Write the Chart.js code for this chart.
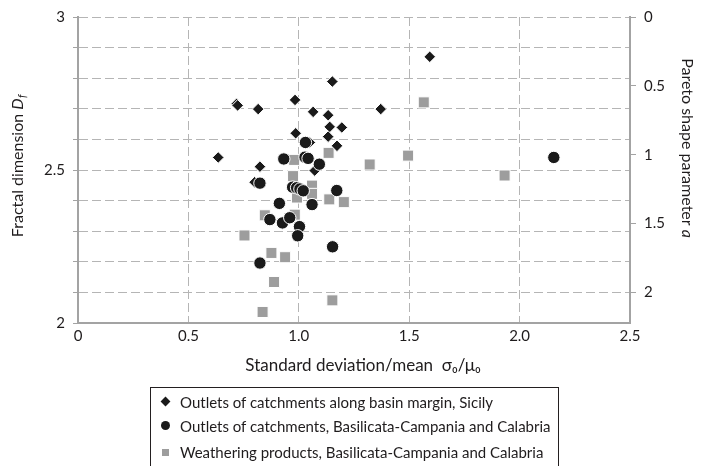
<!DOCTYPE html>
<html>
<head>
<meta charset="utf-8">
<script src="https://cdn.jsdelivr.net/npm/chart.js@4.4.1/dist/chart.umd.min.js"></script>
<style>
  html, body { margin: 0; padding: 0; background: #fff; }
  #wrap { position: relative; width: 701px; height: 466px; overflow: hidden; font-family: Lato, sans-serif; color: #1f1c1d; }
  #legend { position: absolute; left: 150px; top: 387px; width: 409px; height: 100px; border: 1px solid #231f20; box-sizing: border-box; }
  .item { position: absolute; left: 29px; height: 20px; line-height: 20px; font-size: 15px; white-space: nowrap; }
  .mk { position: absolute; }
  .mk.diamond { left: -18px; top: 6px; width: 7px; height: 7px; background: #1a1a1a; transform: rotate(45deg); }
  .mk.circle { left: -19px; top: 5px; width: 9px; height: 9px; border-radius: 50%; background: #1a1a1a; }
  .mk.square { left: -18px; top: 7px; width: 7px; height: 7px; background: #9d9d9d; }
</style>
</head>
<body>
<div id="wrap">
  <canvas id="chart" width="701" height="466"></canvas>
  <div id="legend"></div>
</div>
<script>
// Outlets of catchments along basin margin, Sicily
const sicilyX = [0.718, 0.723, 0.816, 0.983, 1.152, 1.065, 1.133, 1.140, 1.195, 1.133, 0.986, 1.173, 0.635, 0.824, 1.371, 1.593, 1.072, 1.050, 0.800];
const sicilyY = [2.716, 2.711, 2.699, 2.729, 2.789, 2.690, 2.679, 2.641, 2.639, 2.609, 2.620, 2.579, 2.541, 2.511, 2.699, 2.870, 2.498, 2.590, 2.460];

// Outlets of catchments, Basilicata-Campania and Calabria
const outletX = [1.030, 0.932, 1.028, 1.042, 1.093, 0.824, 0.972, 0.990, 1.005, 1.020, 1.172, 0.912, 1.060, 0.869, 0.926, 0.959, 1.003, 0.995, 1.153, 0.824, 2.155];
const outletY = [2.590, 2.536, 2.542, 2.538, 2.519, 2.457, 2.444, 2.442, 2.438, 2.432, 2.433, 2.391, 2.387, 2.338, 2.327, 2.344, 2.315, 2.285, 2.249, 2.196, 2.541];

// Weathering products, Basilicata-Campania and Calabria
const weatherX = [0.979, 0.974, 1.135, 1.321, 1.566, 1.495, 1.932, 1.060, 1.060, 0.992, 1.138, 1.204, 0.846, 0.982, 0.754, 0.876, 0.938, 0.888, 1.152, 0.836];
const weatherY = [2.533, 2.480, 2.556, 2.518, 2.721, 2.547, 2.482, 2.449, 2.422, 2.410, 2.404, 2.395, 2.352, 2.354, 2.286, 2.229, 2.215, 2.134, 2.074, 2.036];

const seriesNames = [
    'Outlets of catchments along basin margin, Sicily',
    'Outlets of catchments, Basilicata-Campania and Calabria',
    'Weathering products, Basilicata-Campania and Calabria'
];

const xTicks = [0, 0.5, 1.0, 1.5, 2.0, 2.5];
const xTickLabels = ['0', '0.5', '1.0', '1.5', '2.0', '2.5'];
const yLabelled = [2, 2.5, 3];
const aTicks = [0, 0.5, 1, 1.5, 2];
const aTickLabels = ['0', '0.5', '1', '1.5', '2'];

const textColor = '#1f1c1d';
const gridColor = '#b5b5b5';
const axisColor = '#a3a3a3';

function toPoints(xs, ys) {
    return xs.map((x, i) => ({ x: x, y: ys[i] }));
}

// axis titles with italic / subscript parts
const axisTitles = {
    id: 'axisTitles',
    afterDraw(chart) {
        const ctx = chart.ctx;
        const area = chart.chartArea;
        const midY = (area.top + area.bottom) / 2;
        ctx.save();
        ctx.fillStyle = textColor;
        ctx.textBaseline = 'middle';

        // x title
        ctx.font = '17px Lato';
        ctx.textAlign = 'center';
        ctx.fillText('Standard deviation/mean  σ\u2080/μ\u2080', (area.left + area.right) / 2 + 9, 366);

        // left title
        ctx.save();
        ctx.translate(18, midY - 4);
        ctx.rotate(-Math.PI / 2);
        ctx.textAlign = 'left';
        const p1 = 'Fractal dimension ';
        ctx.font = '16px Lato';
        const w1 = ctx.measureText(p1).width;
        ctx.font = 'italic 16px Lato';
        const w2 = ctx.measureText('D').width;
        ctx.font = 'italic 11px Lato';
        const w3 = ctx.measureText('f').width;
        let x0 = -(w1 + w2 + w3) / 2;
        ctx.font = '16px Lato';
        ctx.fillText(p1, x0, 0);
        ctx.font = 'italic 16px Lato';
        ctx.fillText('D', x0 + w1, 0);
        ctx.font = 'italic 11px Lato';
        ctx.fillText('f', x0 + w1 + w2 + 0.5, 4);
        ctx.restore();

        // right title
        ctx.save();
        ctx.translate(687, midY - 22);
        ctx.rotate(Math.PI / 2);
        ctx.textAlign = 'left';
        const r1 = 'Pareto shape parameter ';
        ctx.font = '16px Lato';
        const rw1 = ctx.measureText(r1).width;
        ctx.font = 'italic 16px Lato';
        const rw2 = ctx.measureText('a').width;
        x0 = -(rw1 + rw2) / 2;
        ctx.font = '16px Lato';
        ctx.fillText(r1, x0, 0);
        ctx.font = 'italic 16px Lato';
        ctx.fillText('a', x0 + rw1, 0);
        ctx.restore();

        ctx.restore();
    }
};

const tickFont = { family: 'Lato', size: 15 };

new Chart(document.getElementById('chart'), {
    type: 'scatter',
    data: {
        datasets: [
            {
                label: seriesNames[0],
                data: toPoints(sicilyX, sicilyY),
                pointStyle: 'rectRot',
                pointRadius: 5.8,
                backgroundColor: '#1a1a1a',
                borderColor: '#ffffff',
                borderWidth: 1,
                order: 1
            },
            {
                label: seriesNames[1],
                data: toPoints(outletX, outletY),
                pointStyle: 'circle',
                pointRadius: 6.2,
                backgroundColor: '#1a1a1a',
                borderColor: '#ffffff',
                borderWidth: 1,
                order: 0
            },
            {
                label: seriesNames[2],
                data: toPoints(weatherX, weatherY),
                pointStyle: 'rect',
                pointRadius: 7.8,
                backgroundColor: '#9d9d9d',
                borderColor: '#ffffff',
                borderWidth: 1,
                order: 2
            }
        ]
    },
    options: {
        responsive: false,
        animation: false,
        layout: { padding: { top: 16, left: 0, right: 0, bottom: 0 } },
        plugins: {
            legend: { display: false },
            tooltip: { enabled: false }
        },
        scales: {
            x: {
                type: 'linear',
                min: 0,
                max: 2.5,
                afterBuildTicks: (scale) => { scale.ticks = xTicks.map(v => ({ value: v })); },
                afterFit: (scale) => { scale.height = 143; },
                ticks: {
                    font: tickFont,
                    color: textColor,
                    padding: 4,
                    maxRotation: 0,
                    callback: (v) => xTickLabels[xTicks.indexOf(v)]
                },
                grid: { color: gridColor, drawTicks: false, lineWidth: 1 },
                border: { color: axisColor, width: 2, dash: [9, 4] }
            },
            y: {
                type: 'linear',
                position: 'left',
                min: 2,
                max: 3,
                ticks: {
                    stepSize: 0.1,
                    font: tickFont,
                    color: textColor,
                    padding: 8,
                    callback: (v) => {
                        const k = Math.round(v * 10) / 10;
                        return yLabelled.includes(k) ? String(k) : '';
                    }
                },
                afterFit: (scale) => { scale.width = 78; },
                grid: { color: gridColor, tickColor: axisColor, tickLength: 5, tickBorderDash: [], lineWidth: 1 },
                border: { color: axisColor, width: 2, dash: [9, 4] }
            },
            y2: {
                type: 'linear',
                position: 'right',
                reverse: true,
                min: 0,
                max: 1 / 0.45,
                afterBuildTicks: (scale) => { scale.ticks = aTicks.map(v => ({ value: v })); },
                afterFit: (scale) => { scale.width = 71; },
                ticks: {
                    font: tickFont,
                    color: textColor,
                    padding: 8,
                    callback: (v) => aTickLabels[aTicks.indexOf(v)]
                },
                grid: { drawOnChartArea: false, color: axisColor, tickLength: 6 },
                border: { color: axisColor, width: 2 }
            }
        }
    },
    plugins: [axisTitles]
});

// legend box below the chart
const legendEl = document.getElementById('legend');
const markerKinds = ['diamond', 'circle', 'square'];
const legendTops = [4, 28, 54];
seriesNames.forEach((name, i) => {
    const item = document.createElement('div');
    item.className = 'item';
    item.style.top = legendTops[i] + 'px';
    item.innerHTML = '<span class="mk ' + markerKinds[i] + '"></span>' + name;
    legendEl.appendChild(item);
});
</script>
</body>
</html>
